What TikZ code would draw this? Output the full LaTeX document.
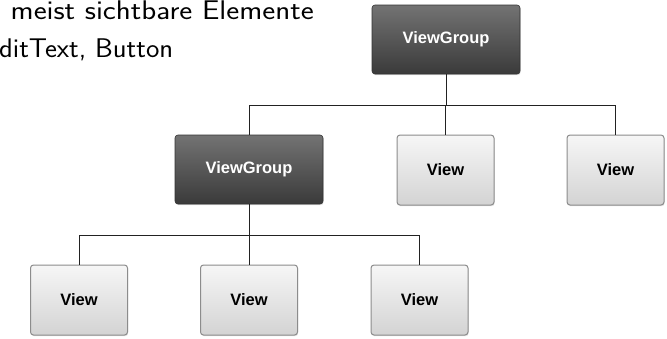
\documentclass[tikz,border=0pt]{standalone}
\usepackage{fontspec}
\newfontfamily\boxfont{Liberation Sans}
\usetikzlibrary{shadows}
\definecolor{vgtop}{HTML}{737373}
\definecolor{vgbot}{HTML}{3A3A3A}
\definecolor{vgdraw}{HTML}{333333}
\definecolor{vtop}{HTML}{F6F6F6}
\definecolor{vbot}{HTML}{D3D3D3}
\definecolor{vdraw}{HTML}{8C8C8C}
\definecolor{linecol}{HTML}{222222}
\tikzset{
  boxbase/.style={rounded corners=3pt, inner sep=0pt,
    font=\boxfont\bfseries\fontsize{16.5}{18}\selectfont,
    drop shadow={opacity=0.25, shadow xshift=0.6pt, shadow yshift=-1.2pt}},
  vgbox/.style={boxbase, minimum width=148pt, minimum height=69pt,
    top color=vgtop, bottom color=vgbot, draw=vgdraw, line width=0.6pt, text=white},
  viewbox/.style={boxbase, minimum width=97pt, minimum height=70pt,
    top color=vtop, bottom color=vbot, draw=vdraw, line width=1pt, text=black},
  conn/.style={draw=linecol, line width=0.9pt},
  slidetext/.style={inner sep=0pt, anchor=base west, font=\sffamily\fontsize{27}{30}\selectfont}
}
\begin{document}
\begin{tikzpicture}[x=1pt, y=-1pt]
\useasboundingbox (0,0) rectangle (667,338);
% texts
\begin{scope}
\clip (0,0) rectangle (667,338);
\node[slidetext] (t1) at (10.5,19) {\resizebox{303pt}{\height}{meist sichtbare Elemente}};
\node[slidetext] (t2) at (-1,57.7) {\resizebox{174pt}{\height}{ditText, Button}};
\end{scope}
% nodes
\node[vgbox] (vg1) at (446,39.5) {ViewGroup};
\node[vgbox] (vg2) at (249,169.5) {ViewGroup};
\node[viewbox] (v1) at (445.5,170) {View};
\node[viewbox] (v2) at (615.5,170) {View};
\node[viewbox] (v3) at (79,300) {View};
\node[viewbox] (v4) at (249,300) {View};
\node[viewbox] (v5) at (419.5,300) {View};
% junctions
\coordinate (j1) at (446,105);
\coordinate (j2) at (249,235);
% connectors
\draw[conn] (vg1.south) -- (j1);
\draw[conn] (j1) -| (vg2.north);
\draw[conn] (j1) -| (v1.north);
\draw[conn] (j1) -| (v2.north);
\draw[conn] (vg2.south) -- (j2);
\draw[conn] (j2) -| (v3.north);
\draw[conn] (j2) -- (v4.north);
\draw[conn] (j2) -| (v5.north);
\end{tikzpicture}
\end{document}
